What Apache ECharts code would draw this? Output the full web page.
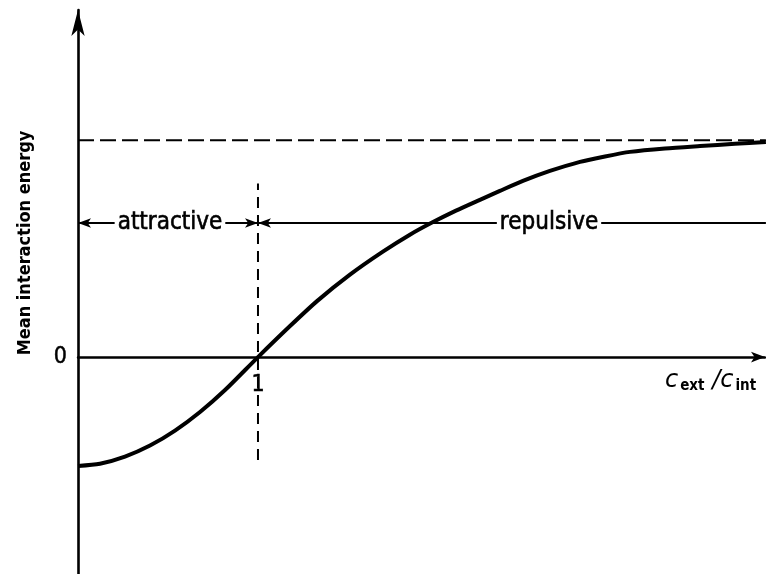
<!DOCTYPE html>
<html>
<head>
<meta charset="utf-8">
<script src="https://cdn.jsdelivr.net/npm/echarts@6/dist/echarts.min.js"></script>
<style>
  html, body { margin: 0; padding: 0; background: #fff; }
  #chart { width: 766px; height: 574px; }
</style>
</head>
<body>
<div id="chart"></div>
<script>
// Mean interaction energy as a function of the concentration ratio c_ext / c_int
const ratio  = [0, 0.122, 0.261, 0.4, 0.539, 0.678, 0.817, 1.0, 1.178, 1.328, 1.511, 1.694, 1.844, 1.967,
                2.1, 2.233, 2.344, 2.472, 2.622, 2.789, 2.928, 3.067, 3.261, 3.456, 3.65, 3.822];
const energy = [-0.502, -0.492, -0.459, -0.408, -0.339, -0.253, -0.152, 0, 0.143, 0.258, 0.380, 0.486, 0.564, 0.620,
                0.675, 0.725, 0.766, 0.812, 0.858, 0.900, 0.925, 0.946, 0.962, 0.973, 0.983, 0.991];

// Axis extents and tick labels
const xRange = [0, 3.817];
const yRange = [-1, 1.6];
const xTickValues = [1];
const xTickLabels = ['1'];
const yTickLabels = ['0'];

// Guide lines: plateau level and the ratio = 1 marker
const plateauLevel = 1.0;
const unitRatio = 1.0;
const unitMarkerSpan = [-0.475, 0.8];

// Regime bar: attractive below ratio 1, repulsive above
const regimeLevel = 0.618;
const regimeNames = ['attractive', 'repulsive'];
const regimeLabelAt = [0.511, 2.617];
const regimeBar = [0, 3.822];
const regimeArrows = [[0, 1], [1, 2]];

const FONT = "'DejaVu Sans Condensed', 'DejaVu Sans', sans-serif";
const INK = '#000';

const curve = ratio.map((r, i) => [r, energy[i]]);

const chart = echarts.init(document.getElementById('chart'), null, { renderer: 'canvas' });

chart.setOption({
  animation: false,
  backgroundColor: '#fff',
  grid: { left: 78, right: 1, top: 10, bottom: 0, containLabel: false, outerBoundsMode: 'none' },
  xAxis: {
    type: 'value',
    min: xRange[0],
    max: xRange[1],
    interval: 1,
    splitLine: { show: false },
    axisTick: { show: false },
    axisLabel: { show: false },
    axisLine: {
      onZero: true,
      symbol: ['none', 'arrow'],
      symbolSize: [8, 14],
      lineStyle: { color: INK, width: 2.5 }
    }
  },
  yAxis: {
    type: 'value',
    min: yRange[0],
    max: yRange[1],
    interval: 1,
    splitLine: { show: false },
    axisTick: { show: false },
    axisLine: {
      onZero: true,
      symbol: ['none', 'arrow'],
      symbolSize: [10, 26],
      lineStyle: { color: INK, width: 2.6 }
    },
    axisLabel: {
      margin: 11,
      color: INK,
      fontFamily: FONT,
      fontSize: 23,
      textBorderColor: INK,
      textBorderWidth: 0.5,
      showMinLabel: false,
      showMaxLabel: false,
      formatter: v => (yTickLabels.includes(String(v)) ? String(v) : '')
    }
  },
  graphic: [
    {
      type: 'text',
      x: 25,
      y: 243,
      rotation: Math.PI / 2,
      style: {
        text: 'Mean interaction energy',
        fill: INK,
        font: "bold 18px 'DejaVu Sans Condensed', 'DejaVu Sans', sans-serif",
        align: 'center',
        verticalAlign: 'middle'
      }
    },
    {
      type: 'text',
      x: 665,
      y: 381,
      style: {
        text: '{c|c}{s|ext}{c| /c}{s|int}',
        fill: INK,
        align: 'left',
        verticalAlign: 'middle',
        rich: {
          c: { fontFamily: "'DejaVu Sans', sans-serif", fontStyle: 'italic', fontSize: 24, lineHeight: 26, fill: INK },
          s: { fontFamily: FONT, fontWeight: 'bold', fontSize: 15, lineHeight: 14, verticalAlign: 'bottom',
               padding: [0, 0, 0, 2], fill: INK }
        }
      }
    }
  ],
  series: [
    {
      name: 'plateau',
      type: 'line',
      clip: false,
      data: [[xRange[0], plateauLevel], [ratio[ratio.length - 1], plateauLevel]],
      symbol: 'none',
      silent: true,
      lineStyle: { color: INK, width: 2, type: [16, 6] }
    },
    {
      name: 'unit ratio',
      type: 'line',
      data: [[unitRatio, unitMarkerSpan[0]], [unitRatio, unitMarkerSpan[1]]],
      symbol: 'none',
      silent: true,
      lineStyle: { color: INK, width: 2, type: [11, 7] }
    },
    {
      name: 'regime bar',
      type: 'line',
      clip: false,
      data: [[regimeBar[0], regimeLevel], [regimeBar[1], regimeLevel]],
      symbol: 'none',
      silent: true,
      lineStyle: { color: INK, width: 2 },
      markLine: {
        silent: true,
        symbolSize: [7, 13],
        lineStyle: { color: INK, width: 2, type: 'solid', opacity: 1 },
        label: { show: false },
        data: [
          [
            { coord: [regimeArrows[0][0], regimeLevel], symbol: 'arrow' },
            { coord: [regimeArrows[0][1], regimeLevel], symbol: 'arrow' }
          ],
          [
            { coord: [regimeArrows[1][0], regimeLevel], symbol: 'arrow' },
            { coord: [regimeArrows[1][1], regimeLevel], symbol: 'none' }
          ]
        ]
      }
    },
    {
      name: 'mean interaction energy',
      type: 'line',
      clip: false,
      data: curve,
      smooth: 0.25,
      symbol: 'none',
      silent: true,
      lineStyle: { color: INK, width: 4 }
    },
    {
      name: 'ticks',
      type: 'scatter',
      symbolSize: 0,
      silent: true,
      itemStyle: { opacity: 1 },
      data: xTickValues.map((v, i) => ({ name: xTickLabels[i], value: [v, 0] })),
      label: {
        show: true,
        position: 'bottom',
        distance: 16,
        formatter: p => p.name,
        color: INK,
        fontFamily: FONT,
        fontSize: 23,
        textBorderColor: INK,
        textBorderWidth: 0.5
      }
    },
    {
      name: 'regimes',
      type: 'scatter',
      z: 5,
      symbolSize: 0,
      silent: true,
      itemStyle: { opacity: 1 },
      data: regimeNames.map((n, i) => ({ name: n, value: [regimeLabelAt[i], regimeLevel] })),
      label: {
        show: true,
        position: 'inside',
        formatter: p => p.name,
        color: INK,
        fontFamily: FONT,
        fontSize: 24,
        textBorderColor: INK,
        textBorderWidth: 0.6,
        backgroundColor: '#fff',
        padding: [2, 3, 2, 3]
      }
    }
  ]
});
</script>
</body>
</html>
